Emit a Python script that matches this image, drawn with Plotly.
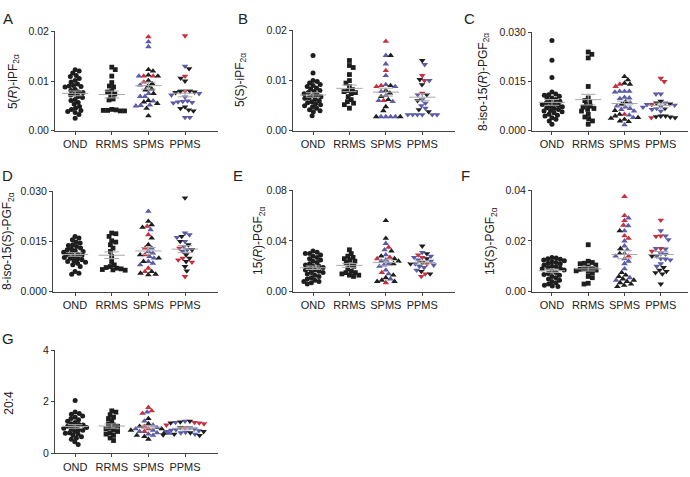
import numpy as np
import plotly.graph_objects as go

W, H = 690, 477
CATS = ["OND", "RRMS", "SPMS", "PPMS"]
RED, BLUE, BLACK = "#c8303f", "#5b5ba8", "#1e1e1e"
GRAY = "#a8a8a8"

# ---------------- data ----------------
# Panel A: 5(R)-iPF2a
A_OND = [0.0123,0.0120,0.0116,0.0111,0.0109,0.0105,0.0101,0.0098,0.0094,0.0091,0.0090,0.0089,0.0088,0.0083,0.0081,0.0078,0.0077,0.0074,0.0072,0.0069,0.0067,0.0063,0.0061,0.0057,0.0054,0.0049,0.0046,0.0043,0.0041,0.0039,0.0037,0.0033,0.0025]
A_RRMS = [0.0128,0.0123,0.0110,0.0097,0.0090,0.0088,0.0080,0.0078,0.0074,0.0071,0.0064,0.0062,0.0043,0.0042,0.0041,0.0040,0.0040,0.0041]
A_SPMS_red = [0.0189,0.0110,0.0110,0.0098]
A_SPMS_blue = [0.0179,0.0169,0.0110,0.0092,0.0075,0.0069,0.0069,0.0060,0.0052,0.0051,0.0050]
A_SPMS_black = [0.0123,0.0120,0.0112,0.0110,0.0101,0.0095,0.0090,0.0084,0.0082,0.0075,0.0061,0.0058,0.0055,0.0045,0.0030]
A_PPMS_red = [0.0191,0.0110,0.0080]
A_PPMS_blue = [0.0130,0.0075,0.0072,0.0068,0.0060,0.0059,0.0058,0.0057,0.0056,0.0027,0.0027]
A_PPMS_black = [0.0125,0.0106,0.0100,0.0080,0.0079,0.0078,0.0077,0.0048,0.0045,0.0042,0.0040]

# Panel B: 5(S)-iPF2a
B_OND = [0.0150,0.0115,0.0100,0.0098,0.0095,0.0092,0.0090,0.0088,0.0085,0.0083,0.0080,0.0078,0.0076,0.0074,0.0072,0.0070,0.0068,0.0066,0.0065,0.0063,0.0060,0.0058,0.0056,0.0054,0.0052,0.0050,0.0048,0.0045,0.0042,0.0040,0.0038,0.0030]
B_RRMS = [0.0140,0.0130,0.0126,0.0112,0.0100,0.0095,0.0088,0.0082,0.0080,0.0078,0.0076,0.0074,0.0068,0.0062,0.0058,0.0055,0.0052,0.0045]
B_SPMS_red = [0.0178,0.0120,0.0090,0.0088,0.0060]
B_SPMS_blue = [0.0150,0.0133,0.0110,0.0092,0.0088,0.0078,0.0070,0.0060,0.0058,0.0028,0.0028,0.0028,0.0028]
B_SPMS_black = [0.0150,0.0090,0.0080,0.0075,0.0068,0.0062,0.0048,0.0040,0.0028,0.0028]
B_PPMS_red = [0.0110,0.0100,0.0075]
B_PPMS_blue = [0.0132,0.0100,0.0072,0.0062,0.0055,0.0050,0.0045,0.0032,0.0032,0.0032,0.0032,0.0032,0.0032]
B_PPMS_black = [0.0140,0.0102,0.0092,0.0072,0.0060,0.0042,0.0038]

# Panel C: 8-iso-15(R)-PGF2a
C_OND = [0.0275,0.0215,0.0162,0.0118,0.0112,0.0110,0.0108,0.0105,0.0100,0.0098,0.0095,0.0090,0.0088,0.0085,0.0082,0.0080,0.0078,0.0075,0.0073,0.0070,0.0068,0.0065,0.0062,0.0060,0.0058,0.0055,0.0050,0.0047,0.0045,0.0040,0.0035,0.0030,0.0020]
C_RRMS = [0.0240,0.0233,0.0222,0.0135,0.0100,0.0092,0.0088,0.0080,0.0075,0.0072,0.0068,0.0065,0.0060,0.0050,0.0042,0.0036,0.0030,0.0020]
C_SPMS_red = [0.0142,0.0135,0.0050]
C_SPMS_blue = [0.0120,0.0120,0.0120,0.0118,0.0102,0.0100,0.0098,0.0085,0.0075,0.0072,0.0068,0.0065,0.0060,0.0048,0.0040,0.0018]
C_SPMS_black = [0.0165,0.0155,0.0145,0.0142,0.0088,0.0080,0.0062,0.0050,0.0045,0.0040,0.0038,0.0035,0.0030,0.0028]
C_PPMS_red = [0.0160,0.0150,0.0080,0.0040]
C_PPMS_blue = [0.0112,0.0112,0.0085,0.0080,0.0078,0.0075,0.0072,0.0068,0.0065,0.0060]
C_PPMS_black = [0.0090,0.0085,0.0082,0.0068,0.0045,0.0045,0.0043,0.0042,0.0040]

# Panel D: 8-iso-15(S)-PGF2a
D_OND = [0.0165,0.0160,0.0155,0.0148,0.0145,0.0140,0.0138,0.0135,0.0130,0.0128,0.0125,0.0122,0.0120,0.0118,0.0115,0.0112,0.0110,0.0108,0.0105,0.0102,0.0100,0.0098,0.0095,0.0092,0.0090,0.0088,0.0085,0.0080,0.0075,0.0060,0.0055,0.0052]
D_RRMS = [0.0175,0.0173,0.0165,0.0152,0.0148,0.0140,0.0130,0.0120,0.0105,0.0090,0.0080,0.0075,0.0072,0.0070,0.0068,0.0066,0.0065,0.0064]
D_SPMS_red = [0.0195,0.0170,0.0130,0.0110,0.0070,0.0060]
D_SPMS_blue = [0.0240,0.0185,0.0130,0.0120,0.0115,0.0105,0.0100,0.0090,0.0085,0.0080]
D_SPMS_black = [0.0210,0.0200,0.0192,0.0160,0.0140,0.0110,0.0100,0.0090,0.0060,0.0055,0.0052,0.0050]
D_PPMS_red = [0.0130,0.0100,0.0095,0.0088,0.0045]
D_PPMS_blue = [0.0175,0.0170,0.0162,0.0150,0.0135,0.0125,0.0120]
D_PPMS_black = [0.0280,0.0165,0.0150,0.0140,0.0125,0.0110,0.0100,0.0090,0.0075,0.0062]

# Panel E: 15(R)-PGF2a
E_OND = [0.032,0.031,0.030,0.030,0.029,0.028,0.027,0.026,0.025,0.024,0.023,0.022,0.021,0.020,0.020,0.019,0.018,0.017,0.017,0.016,0.015,0.015,0.014,0.013,0.012,0.011,0.010,0.009,0.008,0.008,0.007,0.006]
E_RRMS = [0.033,0.030,0.028,0.027,0.026,0.025,0.024,0.023,0.021,0.020,0.018,0.016,0.015,0.015,0.014,0.013,0.013,0.012]
E_SPMS_red = [0.035,0.027,0.026,0.015,0.007]
E_SPMS_blue = [0.038,0.033,0.029,0.025,0.024,0.022,0.021,0.020,0.017,0.014,0.010]
E_SPMS_black = [0.056,0.042,0.032,0.028,0.026,0.024,0.022,0.013,0.011,0.009,0.008,0.008]
E_PPMS_red = [0.029,0.027,0.022,0.014,0.012]
E_PPMS_blue = [0.031,0.028,0.027,0.025,0.024,0.022,0.021,0.020,0.019,0.017]
E_PPMS_black = [0.036,0.030,0.026,0.023,0.022,0.016,0.014]

# Panel F: 15(S)-PGF2a
F_OND = [0.0135,0.0133,0.0130,0.0128,0.0125,0.0122,0.0118,0.0115,0.0112,0.0110,0.0105,0.0100,0.0098,0.0095,0.0092,0.0090,0.0085,0.0080,0.0075,0.0072,0.0068,0.0065,0.0060,0.0055,0.0050,0.0045,0.0040,0.0035,0.0030,0.0025,0.0022,0.0020]
F_RRMS = [0.0185,0.0120,0.0115,0.0112,0.0110,0.0105,0.0098,0.0092,0.0090,0.0088,0.0085,0.0082,0.0080,0.0075,0.0060,0.0055,0.0033,0.0030]
F_SPMS_red = [0.0375,0.0300,0.0280,0.0262,0.0220,0.0210,0.0140]
F_SPMS_blue = [0.0290,0.0260,0.0240,0.0200,0.0180,0.0165,0.0150,0.0140,0.0130,0.0120,0.0110,0.0090,0.0055,0.0045]
F_SPMS_black = [0.0240,0.0170,0.0150,0.0075,0.0065,0.0060,0.0050,0.0045,0.0040,0.0035,0.0030,0.0025,0.0020]
F_PPMS_red = [0.0282,0.0220,0.0218,0.0170,0.0160]
F_PPMS_blue = [0.0240,0.0220,0.0205,0.0170,0.0168,0.0150,0.0148,0.0140,0.0130,0.0128,0.0125,0.0110,0.0100]
F_PPMS_black = [0.0140,0.0095,0.0085,0.0080,0.0075,0.0070,0.0030]

# Panel G: 20:4
G_OND = [2.05,1.60,1.55,1.52,1.45,1.40,1.35,1.30,1.25,1.20,1.15,1.12,1.10,1.05,1.02,1.00,0.98,0.95,0.92,0.90,0.85,0.80,0.78,0.75,0.70,0.65,0.60,0.55,0.45,0.35]
G_RRMS = [1.65,1.60,1.50,1.40,1.35,1.25,1.15,1.10,1.05,1.00,0.95,0.90,0.85,0.80,0.75,0.70,0.60,0.50]
G_SPMS_red = [1.78,1.65,1.55,1.05,0.95,0.85]
G_SPMS_blue = [1.60,1.25,1.10,1.00,0.95,0.90,0.85,0.80,0.78,0.75,0.70]
G_SPMS_black = [1.35,1.15,1.05,0.95,0.90,0.80,0.70,0.65,0.55]
G_PPMS_red = [1.20,1.18,1.15,1.10,1.00]
G_PPMS_blue = [1.25,1.20,1.00,0.95,0.92,0.90,0.88,0.85,0.82,0.80,0.75]
G_PPMS_black = [1.25,1.22,1.18,1.00,0.85,0.80,0.75,0.72,0.70]

# y-axis tick labels per panel
A_TICKS = [0, 0.01, 0.02]; A_TICKTEXT = ["0.00", "0.01", "0.02"]
B_TICKS = [0, 0.01, 0.02]; B_TICKTEXT = ["0.00", "0.01", "0.02"]
C_TICKS = [0, 0.015, 0.030]; C_TICKTEXT = ["0.000", "0.015", "0.030"]
D_TICKS = [0, 0.015, 0.030]; D_TICKTEXT = ["0.000", "0.015", "0.030"]
E_TICKS = [0, 0.04, 0.08]; E_TICKTEXT = ["0.00", "0.04", "0.08"]
F_TICKS = [0, 0.02, 0.04]; F_TICKTEXT = ["0.00", "0.02", "0.04"]
G_TICKS = [0, 2, 4]; G_TICKTEXT = ["0", "2", "4"]

# ---------------- layout of panels (pixel boxes) ----------------
panels = [
    dict(letter="A", title="5(<i>R</i>)-iPF<sub>2α</sub>", box=(55, 218, 26, 128), xr=(-0.55, 3.9),
         ticks=A_TICKS, tt=A_TICKTEXT, groups=[A_OND, A_RRMS, (A_SPMS_red, A_SPMS_blue, A_SPMS_black), (A_PPMS_red, A_PPMS_blue, A_PPMS_black)],
         tpos=(14, 77), lpos=(1, 2)),
    dict(letter="B", title="5(S)-iPF<sub>2α</sub>", box=(293, 455, 25, 128), xr=(-0.55, 3.9),
         ticks=B_TICKS, tt=B_TICKTEXT, groups=[B_OND, B_RRMS, (B_SPMS_red, B_SPMS_blue, B_SPMS_black), (B_PPMS_red, B_PPMS_blue, B_PPMS_black)],
         tpos=(241, 76), lpos=(236, 2)),
    dict(letter="C", title="8-iso-15(<i>R</i>)-PGF<sub>2α</sub>", box=(532, 688, 27, 128), xr=(-0.55, 3.75),
         ticks=C_TICKS, tt=C_TICKTEXT, groups=[C_OND, C_RRMS, (C_SPMS_red, C_SPMS_blue, C_SPMS_black), (C_PPMS_red, C_PPMS_blue, C_PPMS_black)],
         tpos=(484, 78), lpos=(462, 2)),
    dict(letter="D", title="8-iso-15(S)-PGF<sub>2α</sub>", box=(53, 218, 190, 293), xr=(-0.6, 3.9),
         ticks=D_TICKS, tt=D_TICKTEXT, groups=[D_OND, D_RRMS, (D_SPMS_red, D_SPMS_blue, D_SPMS_black), (D_PPMS_red, D_PPMS_blue, D_PPMS_black)],
         tpos=(8, 241), lpos=(0, 163)),
    dict(letter="E", title="15(<i>R</i>)-PGF<sub>2α</sub>", box=(293, 455, 189, 293), xr=(-0.55, 3.9),
         ticks=E_TICKS, tt=E_TICKTEXT, groups=[E_OND, E_RRMS, (E_SPMS_red, E_SPMS_blue, E_SPMS_black), (E_PPMS_red, E_PPMS_blue, E_PPMS_black)],
         tpos=(259, 241), lpos=(231, 163)),
    dict(letter="F", title="15(S)-PGF<sub>2α</sub>", box=(532, 688, 189, 293), xr=(-0.55, 3.75),
         ticks=F_TICKS, tt=F_TICKTEXT, groups=[F_OND, F_RRMS, (F_SPMS_red, F_SPMS_blue, F_SPMS_black), (F_PPMS_red, F_PPMS_blue, F_PPMS_black)],
         tpos=(491, 241), lpos=(459, 163)),
    dict(letter="G", title="20:4", box=(55, 218, 353, 459), xr=(-0.55, 3.9),
         ticks=G_TICKS, tt=G_TICKTEXT, groups=[G_OND, G_RRMS, (G_SPMS_red, G_SPMS_blue, G_SPMS_black), (G_PPMS_red, G_PPMS_blue, G_PPMS_black)],
         tpos=(9, 407), lpos=(0, 330)),
]

SYMBOLS = ["circle", "square", "triangle-up", "triangle-down"]
SIZES = [5.0, 4.8, 5.8, 5.8]


def swarm(vals, ppu_y, d):
    """Compact beeswarm: returns x offsets in pixels."""
    vals = np.asarray(vals, float)
    order = np.argsort(-vals, kind="stable")
    placed = []
    xs = np.zeros(len(vals))
    flip = 1
    for i in order:
        y = vals[i] * ppu_y
        near = [(px, py) for px, py in placed if abs(py - y) < d]
        cands = [0.0]
        for px, py in near:
            dx = np.sqrt(max(d * d - (py - y) ** 2, 0.0)) + 0.01
            cands += [px + dx, px - dx]
        cands = sorted(set(cands), key=lambda c: (round(abs(c), 3), -flip * c))
        for c in cands:
            if all((c - px) ** 2 + (y - py) ** 2 >= d * d - 1e-6 for px, py in near):
                xs[i] = c
                break
        if xs[i] != 0:
            flip = -flip
        placed.append((xs[i], y))
    return xs


fig = go.Figure()
layout = dict(width=W, height=H, margin=dict(l=0, r=0, t=0, b=0), showlegend=False,
              plot_bgcolor="white", paper_bgcolor="white",
              font=dict(family="Arial, Liberation Sans, sans-serif", color="#222"))
annotations = []
shapes = []

for k, p in enumerate(panels, start=1):
    x0, x1, y0, y1 = p["box"]
    xa, ya = f"x{k}", f"y{k}"
    top = p["ticks"][-1]
    ppu_y = (y1 - y0) / top
    ppu_x = (x1 - x0) / (p["xr"][1] - p["xr"][0])
    for gi, g in enumerate(p["groups"]):
        if isinstance(g, tuple):
            vals = list(g[0]) + list(g[1]) + list(g[2])
            cols = [RED] * len(g[0]) + [BLUE] * len(g[1]) + [BLACK] * len(g[2])
        else:
            vals = list(g)
            cols = [BLACK] * len(g)
        offs = swarm(vals, ppu_y, 4.3 if gi < 2 else 4.8) / ppu_x
        fig.add_trace(go.Scatter(
            x=gi + offs, y=vals, mode="markers", xaxis=xa, yaxis=ya, cliponaxis=False,
            marker=dict(symbol=SYMBOLS[gi], size=SIZES[gi], color=cols, line=dict(width=0)),
            hoverinfo="skip"))
    # mean +/- SEM
    lx, ly = [], []
    for gi, g in enumerate(p["groups"]):
        vals = np.concatenate([np.asarray(s, float) for s in g]) if isinstance(g, tuple) else np.asarray(g, float)
        m = vals.mean()
        s = vals.std(ddof=1) / np.sqrt(len(vals))
        lx += [gi - 0.36, gi + 0.36, None, gi, gi, None, gi - 0.2, gi + 0.2, None, gi - 0.2, gi + 0.2, None]
        ly += [m, m, None, m - s, m + s, None, m - s, m - s, None, m + s, m + s, None]
    fig.add_trace(go.Scatter(x=lx, y=ly, mode="lines", xaxis=xa, yaxis=ya, cliponaxis=False,
                             line=dict(color=GRAY, width=1), hoverinfo="skip"))

    layout[f"xaxis{k}"] = dict(domain=[x0 / W, x1 / W], anchor=ya, range=list(p["xr"]),
                               tickvals=[0, 1, 2, 3], ticktext=CATS, ticks="outside", ticklen=3,
                               tickcolor="#444", showline=True, linecolor="#444", linewidth=1,
                               showgrid=False, zeroline=False, tickfont=dict(size=11, color="#222"))
    layout[f"yaxis{k}"] = dict(domain=[1 - y1 / H, 1 - y0 / H], anchor=xa, range=[0, top],
                               tickvals=p["ticks"], ticktext=p["tt"], ticks="outside", ticklen=3,
                               tickcolor="#444", showline=True, linecolor="#444", linewidth=1,
                               showgrid=False, zeroline=False, tickfont=dict(size=10.5, color="#222"))
    tx, ty = p["tpos"]
    annotations.append(dict(text=p["title"], x=tx / W, y=1 - ty / H, xref="paper", yref="paper",
                            textangle=-90, showarrow=False, xanchor="center", yanchor="middle",
                            font=dict(size=12, color="#222")))
    lx0, ly0 = p["lpos"]
    annotations.append(dict(text=p["letter"], x=lx0 / W, y=1 - ly0 / H, xref="paper", yref="paper",
                            showarrow=False, xanchor="left", yanchor="top", font=dict(size=15, color="#222")))

# significance bars in panel F
for (xa_, xb_, yv, xs_) in [(-0.22, 2.12, 0.0458, 0.98), (-0.27, 3.2, 0.0408, 1.45)]:
    shapes.append(dict(type="line", xref="x6", yref="y6", x0=xa_, x1=xb_, y0=yv, y1=yv,
                       line=dict(color=GRAY, width=1)))
    annotations.append(dict(text="*", x=xs_, y=yv, xref="x6", yref="y6", showarrow=False,
                            yanchor="bottom", yshift=-4, font=dict(size=10, color="#333")))

layout["annotations"] = annotations
layout["shapes"] = shapes
fig.update_layout(**layout)
fig.write_html("out.html", config={"displayModeBar": False, "staticPlot": True},
               post_script="document.body.style.margin='0';document.body.style.overflow='hidden';")
